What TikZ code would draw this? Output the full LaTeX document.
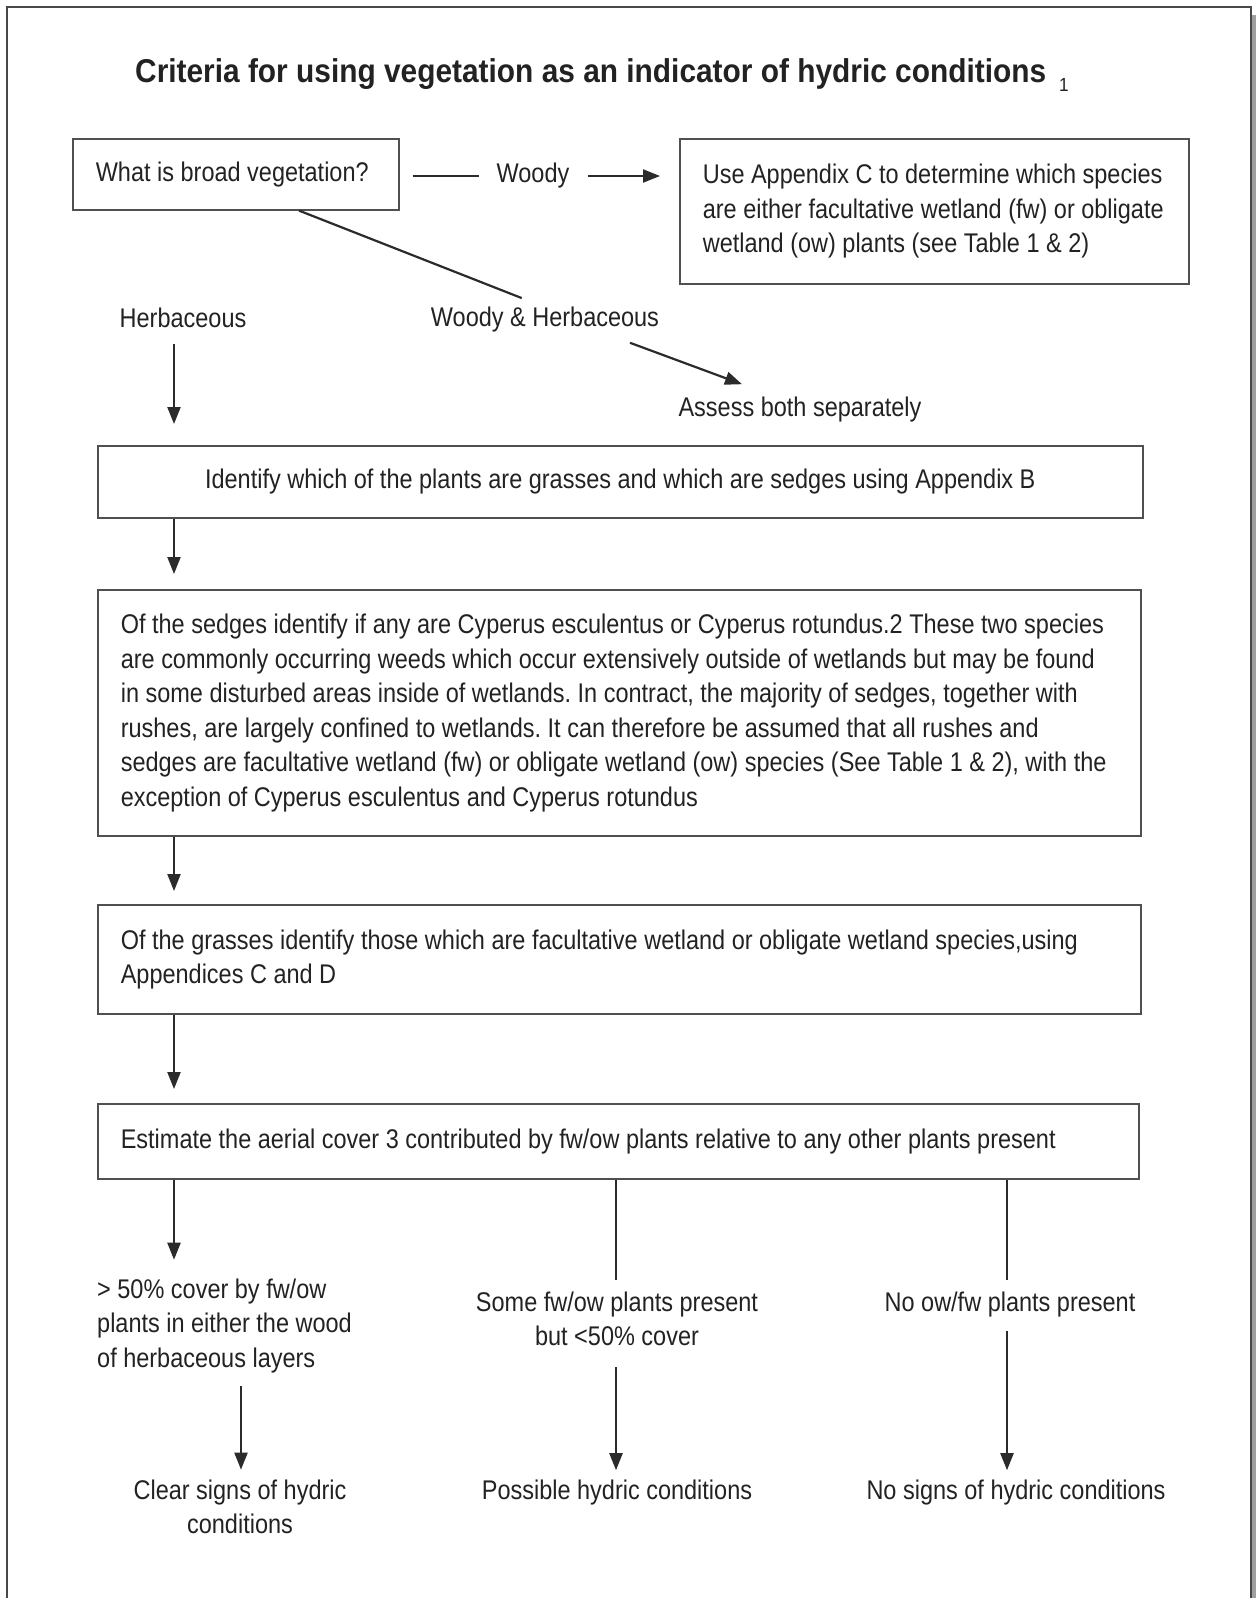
\documentclass[tikz,border=0pt]{standalone}
\usepackage{fontspec}
\setmainfont{Liberation Sans}[FakeStretch=0.87]
\newfontfamily\titlefont{Liberation Sans}[FakeStretch=0.905]
\usetikzlibrary{arrows.meta,calc}
\definecolor{txt}{HTML}{222222}
\definecolor{ln}{HTML}{2B2B2B}
\definecolor{bx}{HTML}{505050}
\begin{document}
\begin{tikzpicture}[x=1pt,y=-1pt,
  every node/.style={text=txt,font=\fontsize{27}{34.5}\selectfont,inner sep=0pt,
    execute at begin node={\frenchspacing\hyphenpenalty=10000\exhyphenpenalty=10000}},
  titlestyle/.style={font=\titlefont\fontsize{33}{38}\selectfont\bfseries},
  boxstyle/.style={draw=bx,line width=1.6pt,anchor=north west,inner xsep=23pt,align=flush left},
  lbl/.style={align=flush left},
  ctr/.style={align=flush center},
  conn/.style={draw=ln,line width=2.2pt},
  arr/.style={conn,-{Triangle[length=17pt,width=13pt]}}]
\useasboundingbox (0,0) rectangle (1256,1598);
% outer frame
\fill[gray!75] (1252,15) rectangle (1256,1598);
\draw[draw=bx!90!black,line width=1.5pt] (7,1598) -- (7,7) -- (1251,7) -- (1251,1598);
% title
\node[titlestyle] (title) at (602,75) {Criteria for using vegetation as an indicator of hydric conditions\hspace{13pt}\raisebox{-9pt}{\fontsize{19}{19}\selectfont\mdseries 1}};
% boxes
\node[boxstyle,text width=280pt,minimum height=71pt] (box1) at (72,138) {What is broad vegetation?};
\node (woody) at (533,176) {Woody};
\node[boxstyle,text width=463pt,minimum height=145pt] (box2) at (679,138) {Use Appendix C to determine which species\\are either facultative wetland (fw) or obligate\\wetland (ow) plants (see Table 1 \& 2)};
\node (herb) at (183,318) {Herbaceous};
\node (wh) at (545,320) {Woody \& Herbaceous};
\node (assess) at (800,410) {Assess both separately};
\node[boxstyle,ctr,text width=999pt,minimum height=72pt] (box3) at (97,445) {Identify which of the plants are grasses and which are sedges using Appendix B};
\node[boxstyle,text width=997pt,minimum height=246pt] (box4) at (97,589) {Of the sedges identify if any are Cyperus esculentus or Cyperus rotundus.2 These two species\\are commonly occurring weeds which occur extensively outside of wetlands but may be found\\in some disturbed areas inside of wetlands. In contract, the majority of sedges, together with\\rushes, are largely confined to wetlands. It can therefore be assumed that all rushes and\\sedges are facultative wetland (fw) or obligate wetland (ow) species (See Table 1 \& 2), with the\\exception of Cyperus esculentus and Cyperus rotundus};
\node[boxstyle,text width=997pt,minimum height=109pt] (box5) at (97,904) {Of the grasses identify those which are facultative wetland or obligate wetland species,using\\Appendices C and D};
\node[boxstyle,text width=995pt,minimum height=75pt] (box6) at (97,1103) {Estimate the aerial cover 3 contributed by fw/ow plants relative to any other plants present};
\node[lbl,anchor=west] (c1) at (97,1326) {> 50\% cover by fw/ow\\plants in either the wood\\of herbaceous layers};
\node[ctr] (c2) at (617,1319) {Some fw/ow plants present\\but <50\% cover};
\node (c3) at (1010,1305) {No ow/fw plants present};
\node[ctr] (r1) at (240,1507) {Clear signs of hydric\\conditions};
\node (r2) at (617,1493) {Possible hydric conditions};
\node (r3) at (1016,1493) {No signs of hydric conditions};
% x positions of vertical connectors
\coordinate (xa) at (174,0);
\coordinate (xb) at (241,0);
\coordinate (xm) at (616,0);
\coordinate (xr) at (1007,0);
% connectors
\draw[conn,shorten <=13pt,shorten >=17pt] (box1.east |- woody) -- (woody.west);
\draw[arr,shorten <=18pt,shorten >=19pt] (woody.east) -- (box2.west |- woody);
\draw[conn,shorten >=25pt] ($(box1.south west)!0.693!(box1.south east)$) -- (wh.north);
\draw[arr] ($(wh.south)+(85,10)$) -- ($(assess.north)+(-58,-13)$);
\draw[arr,shorten <=16pt,shorten >=21pt] (herb.south -| xa) -- (box3.north -| xa);
\draw[arr,shorten >=15pt] (box3.south -| xa) -- (box4.north -| xa);
\draw[arr,shorten >=13pt] (box4.south -| xa) -- (box5.north -| xa);
\draw[arr,shorten >=14pt] (box5.south -| xa) -- (box6.north -| xa);
\draw[arr,shorten >=19pt] (box6.south -| xa) -- (c1.north -| xa);
\draw[conn,shorten >=12pt] (box6.south -| xm) -- (c2.north -| xm);
\draw[conn,shorten >=12pt] (box6.south -| xr) -- (c3.north -| xr);
\draw[arr,shorten <=13pt,shorten >=10pt] (c1.south -| xb) -- (r1.north -| xb);
\draw[arr,shorten <=21pt,shorten >=10pt] (c2.south -| xm) -- (r2.north -| xm);
\draw[arr,shorten <=13pt,shorten >=10pt] (c3.south -| xr) -- (r3.north -| xr);
\end{tikzpicture}
\end{document}
